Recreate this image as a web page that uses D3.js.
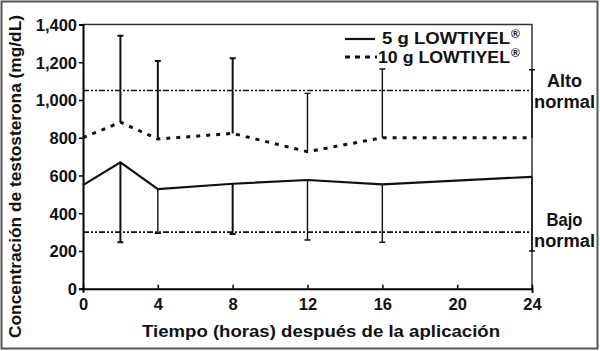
<!DOCTYPE html>
<html><head><meta charset="utf-8">
<script src="https://cdn.jsdelivr.net/npm/d3@7"></script>
<style>
html,body{margin:0;padding:0;background:#fff;}
svg text{font-family:"Liberation Sans",Arial,sans-serif;font-weight:bold;fill:#111;}
</style></head>
<body><svg id="c" width="600" height="351"></svg>
<script>
const hours = [0, 2, 4, 8, 12, 16, 24];
const dose5 = [549, 670, 528, 556, 576, 553, 593];
const dose5Lower = [null, 246, 294, 290, 258, 246, 200];
const dose10 = [800, 882, 793, 823, 726, 800, 800];
const dose10Upper = [null, 1341, 1207, 1221, 1035, 1164, 1160];
const refLines = [{value: 1050, label: ["Alto", "normal"]}, {value: 300, label: ["Bajo", "normal"]}];
const xTicks = [0, 4, 8, 12, 16, 20, 24];
const yTicks = [0, 200, 400, 600, 800, 1000, 1200, 1400];
const legendLabels = ["5 g LOWTIYEL", "10 g LOWTIYEL"];

const svg = d3.select("#c");
const L = 83, R = 532, T = 24.5, B = 288.7;
const x = d3.scaleLinear().domain([0, 24]).range([L, R]);
const y = d3.scaleLinear().domain([0, 1400]).range([B, T]);

// outer frame
svg.append("rect").attr("x", 1.5).attr("y", 1.5).attr("width", 596).attr("height", 347)
  .attr("fill", "none").attr("stroke", "#555").attr("stroke-width", 2);

// plot frame top/right
svg.append("path").attr("d", `M${L},${T}H${R}V${B}`).attr("fill", "none")
  .attr("stroke", "#333").attr("stroke-width", 1.5);

// reference lines
refLines.forEach(r => {
  svg.append("line").attr("x1", L).attr("x2", R - 2).attr("y1", y(r.value)).attr("y2", y(r.value))
    .attr("stroke", "#111").attr("stroke-width", 1.6).attr("stroke-dasharray", "6,2,2,2,2,2");
});

// axes
const yAxis = d3.axisLeft(y).tickValues(yTicks).tickSize(4).tickFormat(d3.format(","));
const gy = svg.append("g").attr("transform", `translate(${L},0)`).call(yAxis);
const xAxis = d3.axisBottom(x).tickValues(xTicks).tickSize(4).tickFormat(d3.format("d"));
const gx = svg.append("g").attr("transform", `translate(0,${B})`).call(xAxis);
[gx, gy].forEach(g => {
  g.select(".domain").attr("stroke", "#000").attr("stroke-width", 2);
  g.selectAll(".tick line").attr("stroke", "#000").attr("stroke-width", 1.5);
  g.selectAll(".tick text").attr("font-size", 16.5).attr("fill", "#111")
    .attr("font-family", "Liberation Sans, Arial, sans-serif").attr("font-weight", "bold");
});
gy.selectAll(".tick text").attr("x", -6).attr("dy", "0.36em");
gx.selectAll(".tick text").attr("y", 10);
gx.selectAll(".tick line").attr("y2", -4);

// error bars
const cap = 3;
hours.forEach((h, i) => {
  if (dose10Upper[i] != null) {
    const xx = x(h);
    svg.append("path").attr("d", `M${xx},${y(dose10[i])}V${y(dose10Upper[i])}M${xx - cap},${y(dose10Upper[i])}H${xx + cap}`)
      .attr("stroke", "#111").attr("stroke-width", i <= 3 ? 2 : 1.4).attr("fill", "none");
  }
  if (dose5Lower[i] != null) {
    const xx = x(h);
    svg.append("path").attr("d", `M${xx},${y(dose5[i])}V${y(dose5Lower[i])}M${xx - cap},${y(dose5Lower[i])}H${xx + cap}`)
      .attr("stroke", "#111").attr("stroke-width", (i === 1 || i === 3) ? 2 : 1.4).attr("fill", "none");
  }
});

// series lines
const line = d3.line().x((d, i) => x(hours[i])).y(d => y(d));
svg.append("path").datum(dose5).attr("d", line).attr("fill", "none")
  .attr("stroke", "#111").attr("stroke-width", 2.2);
svg.append("path").datum(dose10).attr("d", line).attr("fill", "none")
  .attr("stroke", "#111").attr("stroke-width", 3).attr("stroke-dasharray", "4,6");

// legend
const legY = [39, 57];
svg.append("line").attr("x1", 345).attr("x2", 375).attr("y1", legY[0]).attr("y2", legY[0])
  .attr("stroke", "#111").attr("stroke-width", 2.2);
svg.append("line").attr("x1", 345).attr("x2", 377).attr("y1", legY[1]).attr("y2", legY[1])
  .attr("stroke", "#111").attr("stroke-width", 3).attr("stroke-dasharray", "5,5");
const legX = [382, 378];
legendLabels.forEach((t, i) => {
  const by = [44, 62.5][i];
  svg.append("text").attr("x", legX[i]).attr("y", by).attr("font-size", 17)
    .attr("textLength", 510 - legX[i]).attr("lengthAdjust", "spacingAndGlyphs").text(t);
  svg.append("text").attr("x", 511).attr("y", by - 6).attr("font-size", 12).text("®");
});

// reference labels
refLines.forEach((r, i) => {
  const base = [87.3, 226][i];
  r.label.forEach((t, j) => {
    svg.append("text").attr("x", 564.5).attr("y", base + j * 20.5).attr("text-anchor", "middle")
      .attr("font-size", 17.5).attr("textLength", t === "normal" ? 61 : (i === 0 ? 35 : 36))
      .attr("lengthAdjust", "spacingAndGlyphs").text(t);
  });
});

// axis titles
svg.append("text").attr("x", 321).attr("y", 336.7).attr("text-anchor", "middle")
  .attr("font-size", 17).attr("textLength", 358).attr("lengthAdjust", "spacingAndGlyphs")
  .text("Tiempo (horas) después de la aplicación");
svg.append("text").attr("transform", "translate(20.5,176.5) rotate(-90)").attr("text-anchor", "middle")
  .attr("font-size", 17).attr("textLength", 323).attr("lengthAdjust", "spacingAndGlyphs")
  .text("Concentración de testosterona (mg/dL)");
</script></body></html>
